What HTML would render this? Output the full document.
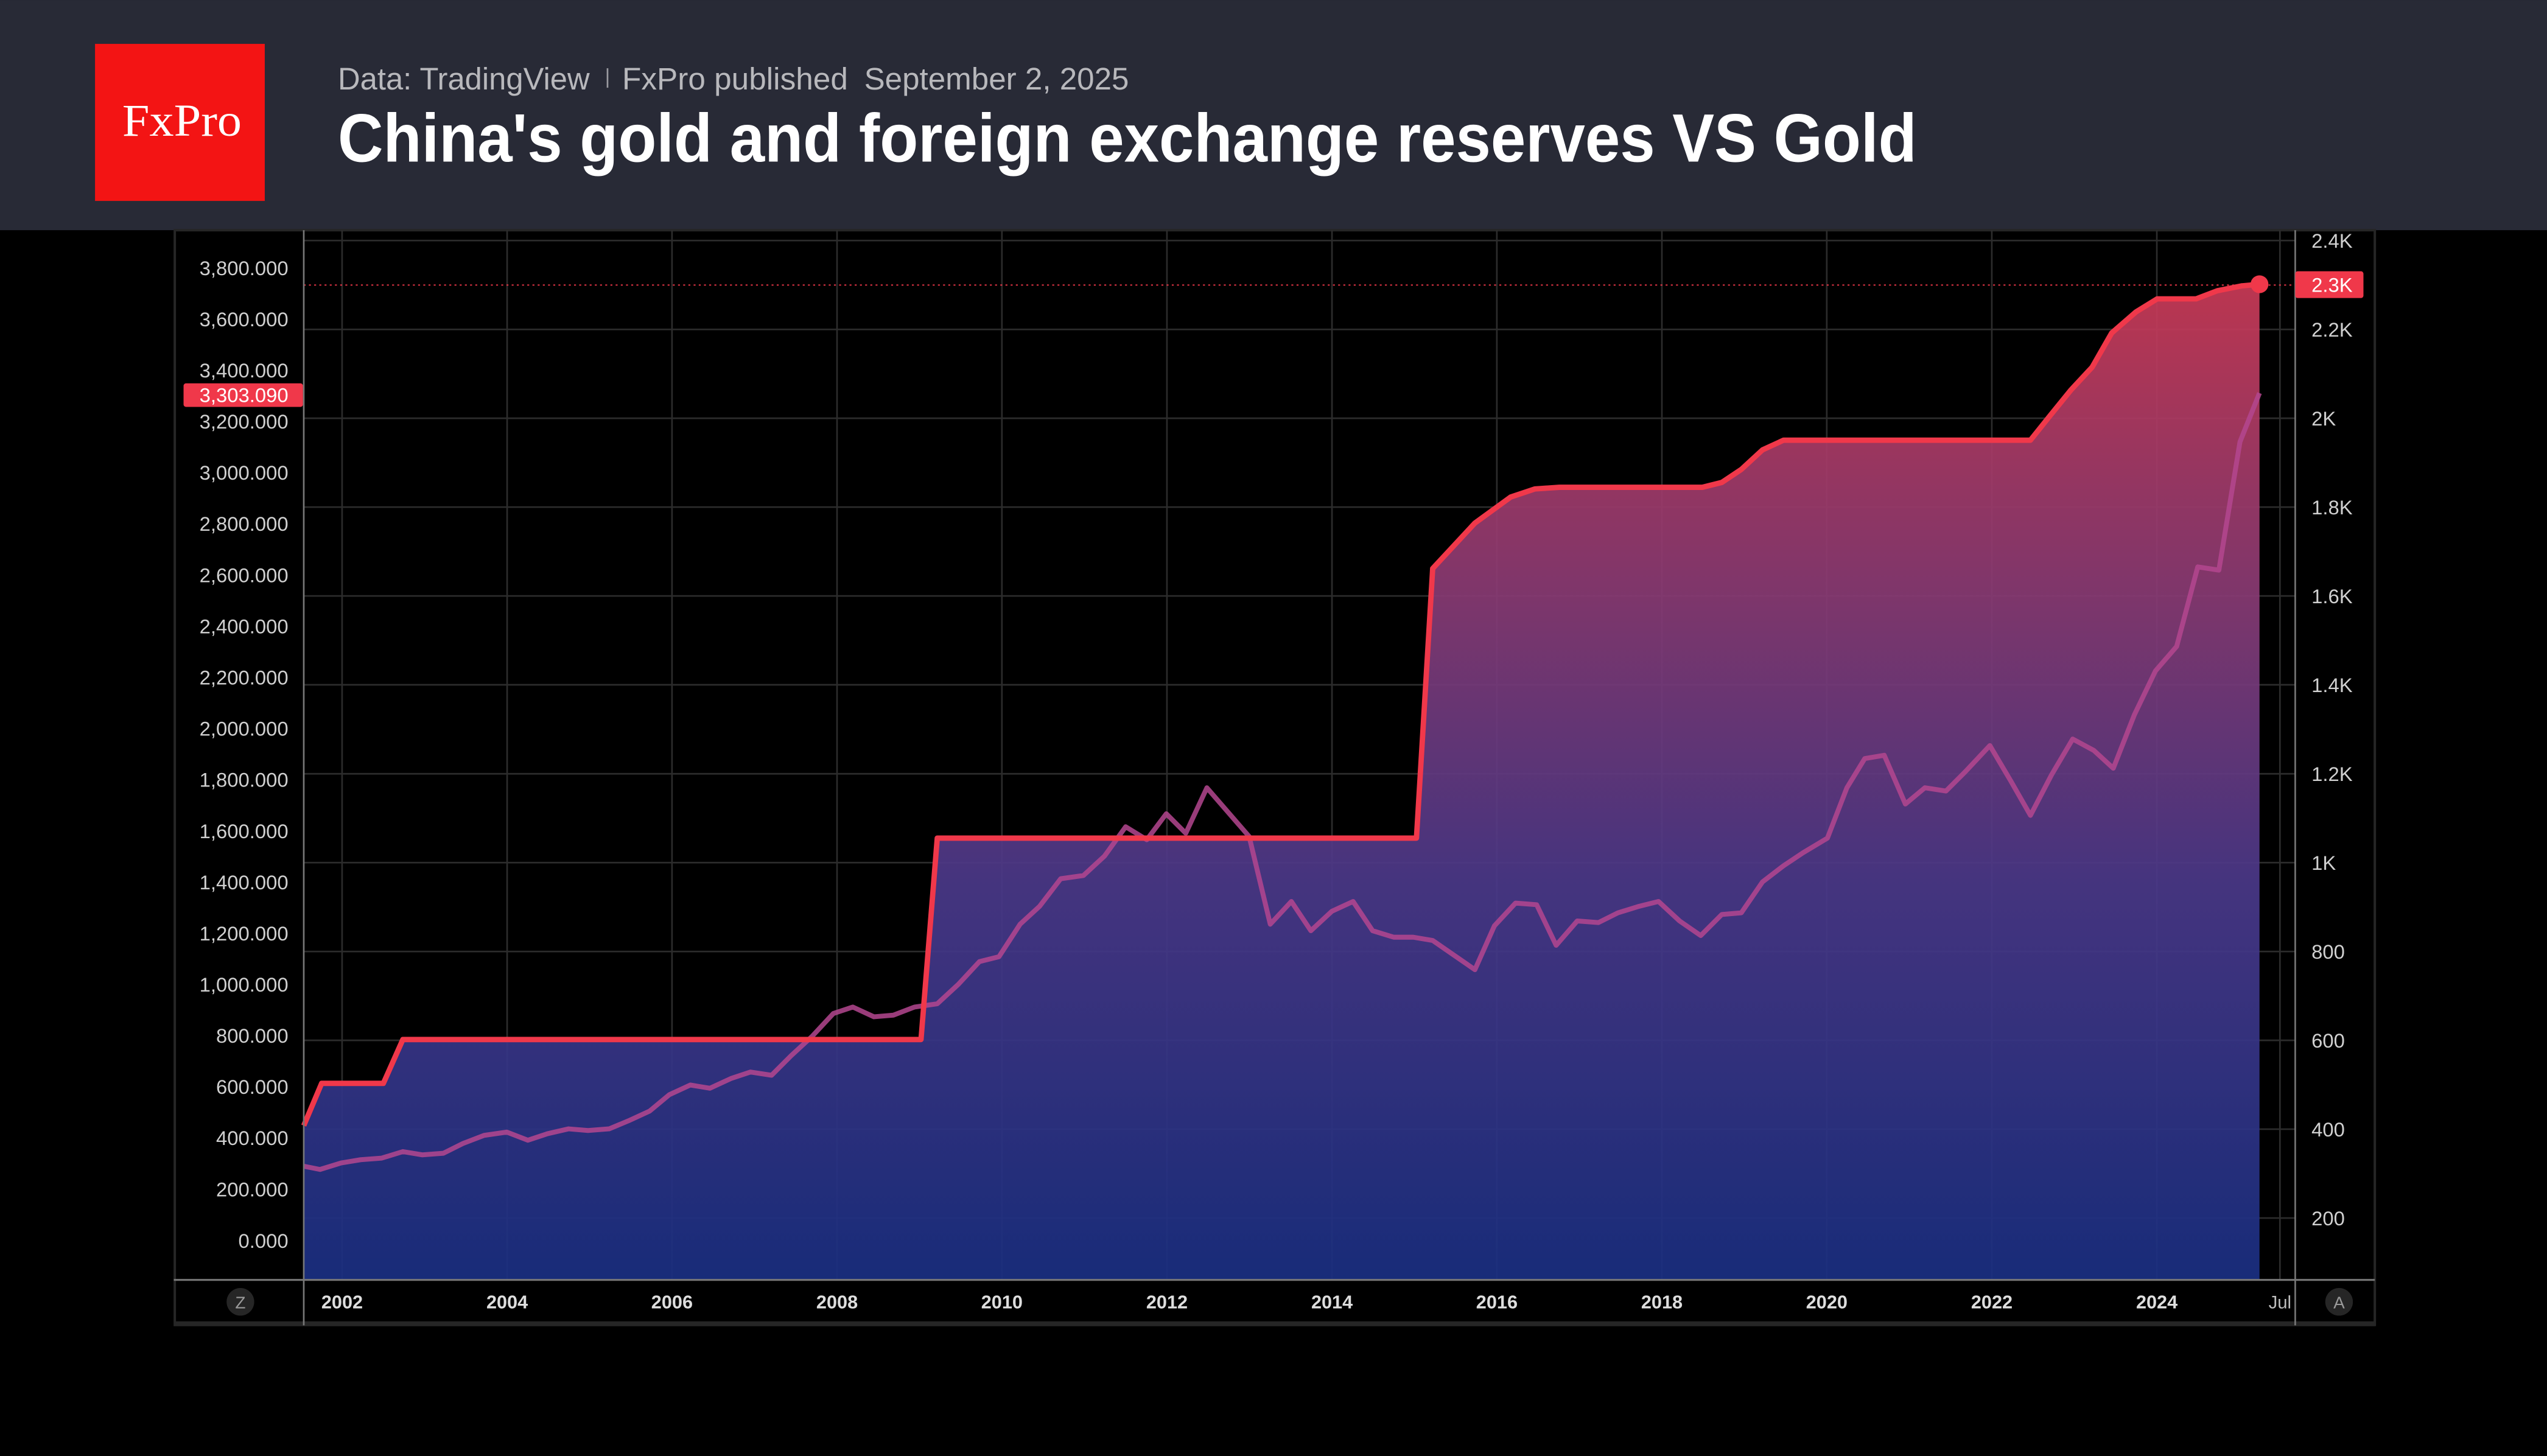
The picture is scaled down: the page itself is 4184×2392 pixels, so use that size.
<!DOCTYPE html>
<html><head><meta charset="utf-8"><style>
html,body{margin:0;padding:0;background:#000;}
svg{display:block;}
</style></head><body>
<svg width="4184" height="2392" viewBox="0 0 1568 896.4" xmlns="http://www.w3.org/2000/svg" font-family="Liberation Sans, sans-serif">
<defs>
<linearGradient id="g" x1="0" y1="175" x2="0" y2="788" gradientUnits="userSpaceOnUse">
<stop offset="0" stop-color="#c93a56"/>
<stop offset="0.3" stop-color="#8a3a72"/>
<stop offset="0.6" stop-color="#4a3888"/>
<stop offset="1" stop-color="#1a2f82"/>
</linearGradient>
</defs>
<rect width="1568" height="896.4" fill="#000"/>
<rect x="0" y="0" width="1568" height="141.7" fill="#282a36"/>
<rect x="58.5" y="27" width="104.5" height="96.7" fill="#f31414"/>
<text x="75.3" y="83.6" font-family="Liberation Serif, serif" font-size="28" fill="#fff" textLength="73.5" lengthAdjust="spacingAndGlyphs">FxPro</text>
<text x="208" y="55" font-size="19" fill="#b8b8bc" textLength="155" lengthAdjust="spacingAndGlyphs">Data: TradingView</text>
<rect x="373.5" y="42" width="1" height="12" fill="#9a9aa0"/>
<text x="383" y="55" font-size="19" fill="#b8b8bc" textLength="139" lengthAdjust="spacingAndGlyphs">FxPro published</text>
<text x="532" y="55" font-size="19" fill="#b8b8bc" textLength="163" lengthAdjust="spacingAndGlyphs">September 2, 2025</text>
<text x="208" y="99.5" font-size="42" font-weight="bold" fill="#fff" textLength="972" lengthAdjust="spacingAndGlyphs">China's gold and foreign exchange reserves VS Gold</text>
<rect x="107.6" y="141.7" width="1354.4" height="674" fill="none" stroke="#262626" stroke-width="1.5"/>
<rect x="107" y="813.5" width="1355" height="3" fill="#262626"/>
<g stroke="#2c2c2c" stroke-width="1">
<line x1="187" x2="1413" y1="148.1" y2="148.1"/><line x1="187" x2="1413" y1="202.8" y2="202.8"/>
<line x1="187" x2="1413" y1="257.5" y2="257.5"/><line x1="187" x2="1413" y1="312.2" y2="312.2"/>
<line x1="187" x2="1413" y1="366.9" y2="366.9"/><line x1="187" x2="1413" y1="421.6" y2="421.6"/>
<line x1="187" x2="1413" y1="476.4" y2="476.4"/><line x1="187" x2="1413" y1="531.1" y2="531.1"/>
<line x1="187" x2="1413" y1="585.8" y2="585.8"/><line x1="187" x2="1413" y1="640.5" y2="640.5"/>
<line x1="187" x2="1413" y1="695.2" y2="695.2"/><line x1="187" x2="1413" y1="749.9" y2="749.9"/>
<line y1="141.7" y2="788" x1="210.6" x2="210.6"/>
<line y1="141.7" y2="788" x1="312.2" x2="312.2"/>
<line y1="141.7" y2="788" x1="413.7" x2="413.7"/>
<line y1="141.7" y2="788" x1="515.3" x2="515.3"/>
<line y1="141.7" y2="788" x1="616.8" x2="616.8"/>
<line y1="141.7" y2="788" x1="718.4" x2="718.4"/>
<line y1="141.7" y2="788" x1="820" x2="820"/>
<line y1="141.7" y2="788" x1="921.5" x2="921.5"/>
<line y1="141.7" y2="788" x1="1023.1" x2="1023.1"/>
<line y1="141.7" y2="788" x1="1124.6" x2="1124.6"/>
<line y1="141.7" y2="788" x1="1226.2" x2="1226.2"/>
<line y1="141.7" y2="788" x1="1327.8" x2="1327.8"/><line y1="141.7" y2="788" x1="1403.6" x2="1403.6"/>
</g>
<polygon fill="url(#g)" fill-opacity="0.93" points="187,693 198,667 236,667 248,640 567,640 577,516 872,516 882,350 908,322 930,306 945,301 960,300 1048,300 1060,297 1072,289 1085,277 1098,271 1250,271 1262,256 1275,240 1288,226 1300,205 1315,192 1328,184 1352,184 1365,179 1380,176 1391,175 1391,788 187,788"/>
<line x1="187" x2="1413" y1="175.5" y2="175.5" stroke="#f0384a" stroke-width="0.7" stroke-dasharray="1.2,2"/>
<polyline fill="none" stroke="#b4468f" stroke-opacity="0.85" stroke-width="3" stroke-linejoin="round" points="187,718 197,720 210,716 222,714 235,713 248,709 260,711 273,710 285,704 298,699 312,697 325,702 337,698 350,695 362,696 375,695 387,690 400,684 412,674 425,668 437,670 450,664 462,660 475,662 487,650 500,638 513,624 525,620 538,626 550,625 563,620 577,618 590,606 603,592 615,589 628,569 640,558 653,541 667,539 680,527 693,509 706,517 718,501 730,513 743,485 756,500 769,515 782,569 795,555 807,573 820,561 833,555 845,573 858,577 870,577 882,579 895,588 908,597 920,570 933,556 946,557 958,582 971,567 984,568 996,562 1009,558 1021,555 1034,567 1047,576 1060,563 1072,562 1085,543 1098,533 1110,525 1125,516 1137,485 1148,467 1160,465 1173,495 1185,485 1198,487 1210,475 1225,459 1238,481 1250,502 1263,477 1276,455 1289,462 1301,473 1314,440 1327,413 1340,398 1353,349 1366,351 1379,272 1391,242"/>
<polyline fill="none" stroke="#f0384a" stroke-width="3.3" stroke-linejoin="round" points="187,693 198,667 236,667 248,640 567,640 577,516 872,516 882,350 908,322 930,306 945,301 960,300 1048,300 1060,297 1072,289 1085,277 1098,271 1250,271 1262,256 1275,240 1288,226 1300,205 1315,192 1328,184 1352,184 1365,179 1380,176 1391,175"/>
<circle cx="1391" cy="175" r="5.5" fill="#f0384a"/>
<line x1="187" x2="187" y1="141.7" y2="816" stroke="#777" stroke-width="1"/>
<line x1="1413" x2="1413" y1="141.7" y2="816" stroke="#777" stroke-width="1"/>
<line x1="107" x2="1462" y1="788" y2="788" stroke="#777" stroke-width="1.2"/>
<g font-size="12.3" fill="#d0d0d0" text-anchor="end">
<text x="177.5" y="169.3">3,800.000</text><text x="177.5" y="200.8">3,600.000</text>
<text x="177.5" y="232.3">3,400.000</text><text x="177.5" y="263.8">3,200.000</text>
<text x="177.5" y="295.3">3,000.000</text><text x="177.5" y="326.8">2,800.000</text>
<text x="177.5" y="358.4">2,600.000</text><text x="177.5" y="389.9">2,400.000</text>
<text x="177.5" y="421.4">2,200.000</text><text x="177.5" y="452.9">2,000.000</text>
<text x="177.5" y="484.4">1,800.000</text><text x="177.5" y="516">1,600.000</text>
<text x="177.5" y="547.5">1,400.000</text><text x="177.5" y="579">1,200.000</text>
<text x="177.5" y="610.5">1,000.000</text><text x="177.5" y="642">800.000</text>
<text x="177.5" y="673.5">600.000</text><text x="177.5" y="705">400.000</text>
<text x="177.5" y="736.6">200.000</text><text x="177.5" y="768.2">0.000</text>
</g>
<rect x="113" y="236" width="73.5" height="14.5" rx="1.5" fill="#f0384a"/>
<text x="177.5" y="247.5" font-size="12.3" fill="#fff" text-anchor="end">3,303.090</text>
<g font-size="12.3" fill="#d0d0d0">
<text x="1423" y="152.5">2.4K</text><text x="1423" y="207.2">2.2K</text>
<text x="1423" y="261.9">2K</text><text x="1423" y="316.6">1.8K</text>
<text x="1423" y="371.3">1.6K</text><text x="1423" y="426">1.4K</text>
<text x="1423" y="480.8">1.2K</text><text x="1423" y="535.5">1K</text>
<text x="1423" y="590.2">800</text><text x="1423" y="644.9">600</text>
<text x="1423" y="699.6">400</text><text x="1423" y="754.3">200</text>
</g>
<rect x="1413" y="167" width="42" height="16.5" rx="1.5" fill="#f0384a"/>
<text x="1423" y="179.7" font-size="12.3" fill="#fff">2.3K</text>
<g font-size="11.5" font-weight="bold" fill="#dedede" text-anchor="middle">
<text x="210.6" y="805.5">2002</text><text x="312.2" y="805.5">2004</text>
<text x="413.7" y="805.5">2006</text><text x="515.3" y="805.5">2008</text>
<text x="616.8" y="805.5">2010</text><text x="718.4" y="805.5">2012</text>
<text x="820" y="805.5">2014</text><text x="921.5" y="805.5">2016</text>
<text x="1023.1" y="805.5">2018</text><text x="1124.6" y="805.5">2020</text>
<text x="1226.2" y="805.5">2022</text><text x="1327.8" y="805.5">2024</text>
</g>
<text x="1403.6" y="805.5" font-size="11" fill="#bdbdbd" text-anchor="middle">Jul</text>
<circle cx="148" cy="801.5" r="8.5" fill="#262626"/>
<text x="148" y="805.5" font-size="10.5" fill="#9a9a9a" text-anchor="middle">Z</text>
<circle cx="1440" cy="801.5" r="8.5" fill="#262626"/>
<text x="1440" y="805.5" font-size="10.5" fill="#9a9a9a" text-anchor="middle">A</text>
</svg>
</body></html>
